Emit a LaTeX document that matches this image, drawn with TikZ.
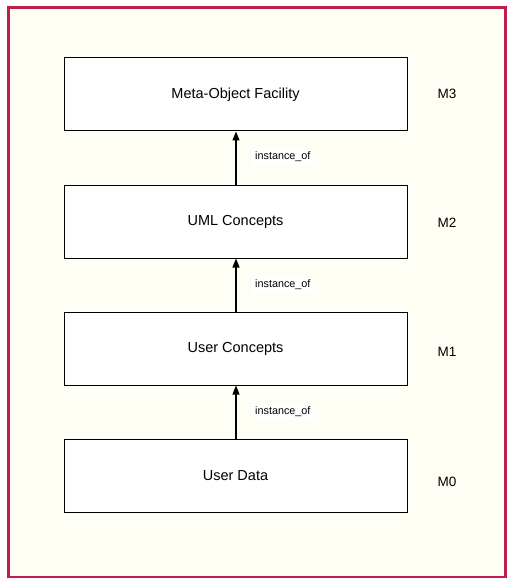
\documentclass[tikz,border=0pt]{standalone}
\usepackage{fontspec}
\setmainfont{Liberation Sans}
\usetikzlibrary{arrows.meta}
\definecolor{framered}{RGB}{190,30,75}
\definecolor{bgcream}{RGB}{255,254,245}
\begin{document}
\begin{tikzpicture}[x=1pt,y=-1pt,
  layerbox/.style={draw=black,fill=white,line width=1pt,minimum width=343pt,minimum height=73pt,inner sep=0pt,font=\fontsize{14.5}{16}\selectfont},
  levellabel/.style={font=\fontsize{13.5}{15}\selectfont},
  instlabel/.style={fill=white,inner sep=3pt,font=\fontsize{10.8}{12}\selectfont,anchor=west},
  instarrow/.style={draw=black,line width=1.1pt,-{Triangle[length=9pt,width=7pt]}}]
\useasboundingbox (0,0) rectangle (510,580);
\fill[white] (0,0) rectangle (510,580);
\draw[framered,fill=bgcream,line width=2.8pt] (8.5,7.5) rectangle (505.5,577);
\node[layerbox] (mof) at (235.5,94.5) {Meta-Object Facility};
\node[layerbox] (uml) at (235.5,221.5) {UML Concepts};
\node[layerbox] (user) at (235.5,348.5) {User Concepts};
\node[layerbox] (data) at (235.5,476) {User Data};
\node[levellabel] (m3) at (447,94) {M3};
\node[levellabel] (m2) at (447,223) {M2};
\node[levellabel] (m1) at (447,352) {M1};
\node[levellabel] (m0) at (447,482) {M0};
\draw[instarrow] (uml.north -| 236,0) -- (mof.south -| 236,0);
\draw[instarrow] (user.north -| 236,0) -- (uml.south -| 236,0);
\draw[instarrow] (data.north -| 236,0) -- (user.south -| 236,0);
\node[instlabel] (i1) at (252,157) {instance\_of};
\node[instlabel] (i2) at (252,285) {instance\_of};
\node[instlabel] (i3) at (252,412) {instance\_of};
\end{tikzpicture}
\end{document}
